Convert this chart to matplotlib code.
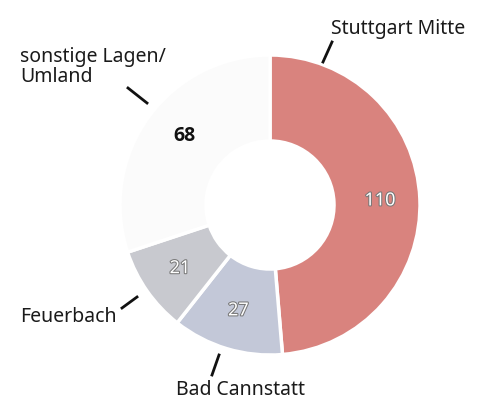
import numpy as np
import matplotlib.pyplot as plt
import matplotlib.patheffects as pe

plt.rcParams['font.family'] = ['Noto Sans', 'DejaVu Sans']

# data
names = ["Stuttgart Mitte", "Bad Cannstatt", "Feuerbach", "sonstige Lagen/\nUmland"]
values = [110, 27, 21, 68]
colors = ["#d9837e", "#c3c8d8", "#c8c9cf", "#fbfbfb"]
value_colors = ["white", "white", "white", "#111111"]

fig = plt.figure(figsize=(4.79, 4.01), dpi=100)
ax = fig.add_axes([0, 0, 1, 1])

R = 150
cx, cy = 270, 196
wedges, _ = ax.pie(values, colors=colors, startangle=90, counterclock=False,
                   radius=R, center=(cx, cy), explode=[0, 0.04, 0.04, 0],
                   wedgeprops=dict(width=86, edgecolor="white", linewidth=2.5))

for w, v, tc in zip(wedges, values, value_colors):
    ang = np.deg2rad((w.theta1 + w.theta2) / 2)
    r = 110
    x = w.center[0] + r * np.cos(ang)
    y = w.center[1] + r * np.sin(ang)
    if tc == "white":
        t = ax.text(x, y, str(v), ha="center", va="center", fontsize=13,
                    color="white")
        t.set_path_effects([pe.withStroke(linewidth=1.5, foreground="#777777")])
    else:
        ax.text(x + 4, y + 5, str(v), ha="center", va="center", fontsize=14,
                color=tc, fontweight="bold", family=["Open Sans", "DejaVu Sans"])

# outer labels with short leader ticks
fs = 14
ax.plot([323, 332], [339, 359], color="#111111", lw=2)
ax.text(331, 372, names[0], ha="left", va="center", fontsize=fs, color="#1a1a1a")

ax.plot([212, 219], [26, 46], color="#111111", lw=2)
ax.text(176, 11, names[1], ha="left", va="center", fontsize=fs, color="#1a1a1a")

ax.plot([122, 137], [93, 104], color="#111111", lw=2)
ax.text(20, 84, names[2], ha="left", va="center", fontsize=fs, color="#1a1a1a")

ax.plot([128, 147], [313, 298], color="#111111", lw=2)
ax.text(20, 334, names[3], ha="left", va="center", fontsize=fs, color="#1a1a1a",
        linespacing=1.0)

ax.set_xlim(0, 479)
ax.set_ylim(0, 401)
ax.set_aspect("equal")
ax.axis("off")

fig.savefig("out.png", dpi=100)
